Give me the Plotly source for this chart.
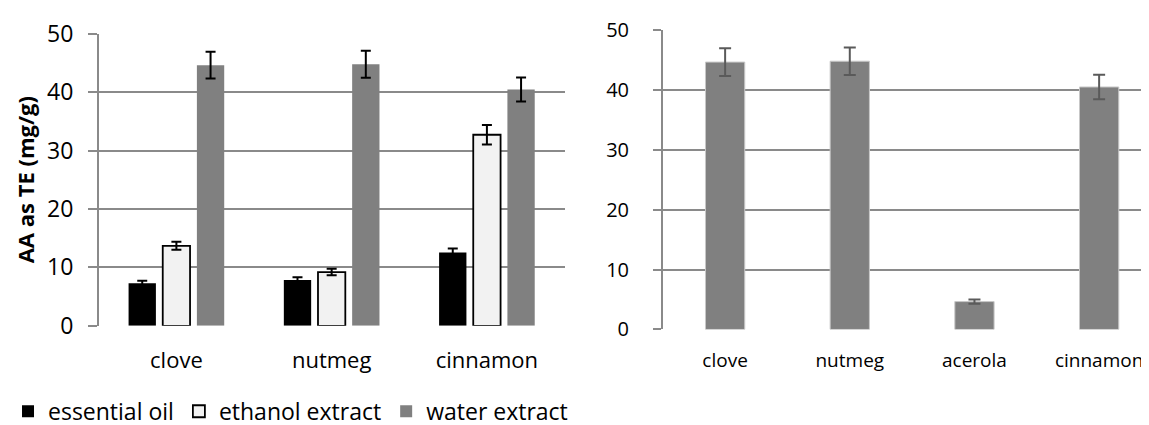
import plotly.graph_objects as go

# ---- data ----
left_categories = ["clove", "nutmeg", "cinnamon"]
essential_oil = [7.3, 7.85, 12.55]
essential_oil_err = [0.4, 0.45, 0.7]
ethanol_extract = [13.7, 9.2, 32.7]
ethanol_extract_err = [0.7, 0.55, 1.65]
water_extract = [44.6, 44.75, 40.45]
water_extract_err = [2.3, 2.3, 2.05]

right_categories = ["clove", "nutmeg", "acerola", "cinnamon"]
right_values = [44.6, 44.75, 4.65, 40.45]
right_err = [2.3, 2.3, 0.35, 2.05]

y_ticks = [0, 10, 20, 30, 40, 50]

FONT = "Open Sans"
OFF_X = 8  # page body margin offset (horizontal)
W, H = 1149 - OFF_X, 425
GRID = "#8a8a8a"


def px_x(x):
    return (x - OFF_X) / W


def px_y(y):
    return (H - y) / H


fig = go.Figure()

fig.add_trace(go.Bar(
    name="essential oil", x=left_categories, y=essential_oil,
    marker=dict(color="#000000", line=dict(color="#000000", width=0)),
    error_y=dict(type="data", array=essential_oil_err, color="#000000", thickness=2, width=5),
    xaxis="x", yaxis="y",
))
fig.add_trace(go.Bar(
    name="ethanol extract", x=left_categories, y=ethanol_extract,
    marker=dict(color="#f2f2f2", line=dict(color="#000000", width=1.8)),
    error_y=dict(type="data", array=ethanol_extract_err, color="#000000", thickness=2, width=5),
    xaxis="x", yaxis="y",
))
fig.add_trace(go.Bar(
    name="water extract", x=left_categories, y=water_extract,
    marker=dict(color="#808080", line=dict(color="#808080", width=0)),
    error_y=dict(type="data", array=water_extract_err, color="#000000", thickness=2, width=5),
    xaxis="x", yaxis="y",
))
fig.add_trace(go.Bar(
    name="right", x=right_categories, y=right_values, showlegend=False,
    marker=dict(color="#808080", line=dict(color="#c8c8c8", width=1)),
    width=0.315,
    error_y=dict(type="data", array=right_err, color="#5a5a5a", thickness=2, width=6),
    xaxis="x2", yaxis="y2",
))

fig.update_layout(
    width=W, height=H,
    margin=dict(l=0, r=0, t=0, b=0),
    paper_bgcolor="white", plot_bgcolor="white",
    font=dict(family=FONT, color="#000000"),
    barmode="group", bargap=0.34, bargroupgap=0.2,
    showlegend=True,
    legend=dict(orientation="h", x=-3 / W, xanchor="left", y=px_y(414), yanchor="middle",
                font=dict(size=23, family=FONT), itemwidth=30, traceorder="normal",
                bgcolor="rgba(0,0,0,0)"),
    xaxis=dict(domain=[px_x(96), px_x(563)], anchor="y", showgrid=False, zeroline=False,
               showline=False, ticks="", tickfont=dict(size=22), ticklabelstandoff=19,
               automargin=False, ticklabeloverflow="allow"),
    yaxis=dict(domain=[px_y(326.3), px_y(26.3)], anchor="x", range=[0, 50], tickvals=y_ticks,
               showgrid=True, gridcolor=GRID, gridwidth=1.5, zeroline=False,
               showline=True, linecolor=GRID, linewidth=1.5,
               ticks="outside", ticklen=9, tickcolor=GRID, tickwidth=1.5,
               tickfont=dict(size=23), ticklabelstandoff=10, automargin=False,
               ticklabeloverflow="allow",
               title=dict(text="<b>AA as TE (mg/g)</b>", font=dict(size=22), standoff=6)),
    xaxis2=dict(domain=[px_x(661.5), 1.0], anchor="y2", range=[-0.5, 3.4], showgrid=False,
                zeroline=False, showline=False, ticks="", tickfont=dict(size=19),
                ticklabelstandoff=18, automargin=False, ticklabeloverflow="allow"),
    yaxis2=dict(domain=[px_y(330), px_y(22.3)], anchor="x2", range=[0, 50], tickvals=y_ticks,
                showgrid=True, gridcolor=GRID, gridwidth=1.5, zeroline=False,
                showline=True, linecolor=GRID, linewidth=1.5,
                ticks="outside", ticklen=8, tickcolor=GRID, tickwidth=1.5,
                tickfont=dict(size=20), ticklabelstandoff=20, automargin=False,
                ticklabeloverflow="allow"),
)

fig.write_html("out.html")
